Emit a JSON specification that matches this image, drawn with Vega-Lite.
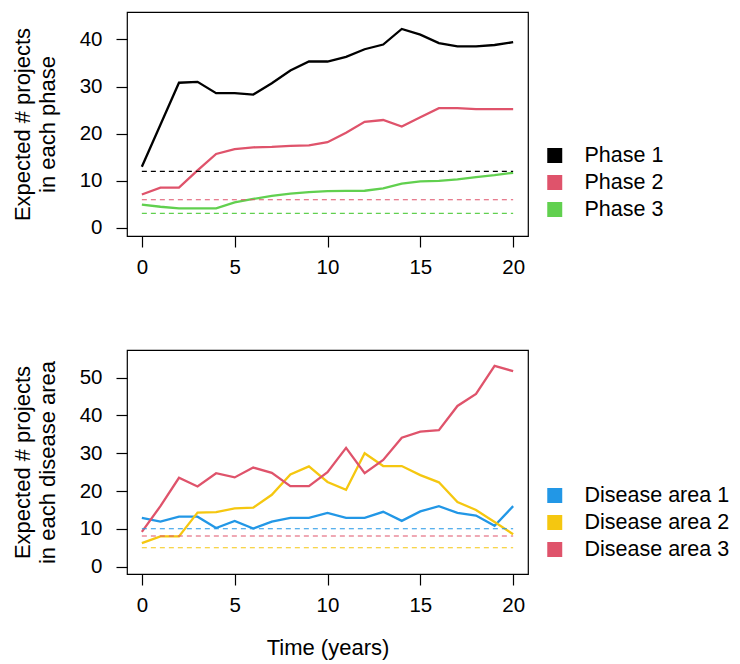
{
  "$schema": "https://vega.github.io/schema/vega-lite/v6.json",
  "padding": {"left": 10, "top": 11, "right": 5, "bottom": 5},
  "background": "white",
  "bounds": "flush",
  "spacing": 114,
  "resolve": {"scale": {"color": "independent"}},
  "config": {
    "font": "Liberation Sans",
    "view": {"stroke": "black", "strokeWidth": 1.2},
    "axis": {
      "domain": false, "grid": false, "tickColor": "black", "tickSize": 11, "tickWidth": 1.2,
      "labelColor": "black", "labelFontSize": 20.5, "labelFont": "Liberation Sans", "labelPadding": 10,
      "titleFont": "Liberation Sans", "titleFontSize": 22, "titleFontWeight": "normal", "titleColor": "black"
    },
    "axisY": {"labelPadding": 14, "titlePadding": 20, "titleLineHeight": 25},
    "legend": {
      "orient": "none", "title": null, "symbolType": "square", "symbolSize": 56, "symbolStrokeWidth": 7.5, "symbolDash": [],
      "labelFont": "Liberation Sans", "labelFontSize": 21.5, "labelColor": "black", "labelOffset": 19, "rowPadding": 0, "clipHeight": 27
    }
  },
  "vconcat": [
    {
      "width": 401, "height": 224,
      "layer": [
        {
          "data": {"values": [
            {"t":0,"v":13.0,"s":"Phase 1"},{"t":1,"v":21.9,"s":"Phase 1"},{"t":2,"v":30.8,"s":"Phase 1"},{"t":3,"v":31.0,"s":"Phase 1"},{"t":4,"v":28.6,"s":"Phase 1"},{"t":5,"v":28.6,"s":"Phase 1"},{"t":6,"v":28.3,"s":"Phase 1"},{"t":7,"v":30.7,"s":"Phase 1"},{"t":8,"v":33.4,"s":"Phase 1"},{"t":9,"v":35.3,"s":"Phase 1"},{"t":10,"v":35.3,"s":"Phase 1"},{"t":11,"v":36.3,"s":"Phase 1"},{"t":12,"v":37.9,"s":"Phase 1"},{"t":13,"v":38.9,"s":"Phase 1"},{"t":14,"v":42.2,"s":"Phase 1"},{"t":15,"v":41.0,"s":"Phase 1"},{"t":16,"v":39.2,"s":"Phase 1"},{"t":17,"v":38.5,"s":"Phase 1"},{"t":18,"v":38.5,"s":"Phase 1"},{"t":19,"v":38.8,"s":"Phase 1"},{"t":20,"v":39.4,"s":"Phase 1"},
            {"t":0,"v":7.1,"s":"Phase 2"},{"t":1,"v":8.55,"s":"Phase 2"},{"t":2,"v":8.55,"s":"Phase 2"},{"t":3,"v":12.2,"s":"Phase 2"},{"t":4,"v":15.7,"s":"Phase 2"},{"t":5,"v":16.7,"s":"Phase 2"},{"t":6,"v":17.1,"s":"Phase 2"},{"t":7,"v":17.2,"s":"Phase 2"},{"t":8,"v":17.4,"s":"Phase 2"},{"t":9,"v":17.5,"s":"Phase 2"},{"t":10,"v":18.2,"s":"Phase 2"},{"t":11,"v":20.2,"s":"Phase 2"},{"t":12,"v":22.5,"s":"Phase 2"},{"t":13,"v":22.9,"s":"Phase 2"},{"t":14,"v":21.5,"s":"Phase 2"},{"t":15,"v":23.5,"s":"Phase 2"},{"t":16,"v":25.4,"s":"Phase 2"},{"t":17,"v":25.4,"s":"Phase 2"},{"t":18,"v":25.2,"s":"Phase 2"},{"t":19,"v":25.2,"s":"Phase 2"},{"t":20,"v":25.2,"s":"Phase 2"},
            {"t":0,"v":4.95,"s":"Phase 3"},{"t":1,"v":4.5,"s":"Phase 3"},{"t":2,"v":4.17,"s":"Phase 3"},{"t":3,"v":4.17,"s":"Phase 3"},{"t":4,"v":4.17,"s":"Phase 3"},{"t":5,"v":5.44,"s":"Phase 3"},{"t":6,"v":6.15,"s":"Phase 3"},{"t":7,"v":6.8,"s":"Phase 3"},{"t":8,"v":7.3,"s":"Phase 3"},{"t":9,"v":7.6,"s":"Phase 3"},{"t":10,"v":7.8,"s":"Phase 3"},{"t":11,"v":7.85,"s":"Phase 3"},{"t":12,"v":7.9,"s":"Phase 3"},{"t":13,"v":8.4,"s":"Phase 3"},{"t":14,"v":9.4,"s":"Phase 3"},{"t":15,"v":9.9,"s":"Phase 3"},{"t":16,"v":10.0,"s":"Phase 3"},{"t":17,"v":10.3,"s":"Phase 3"},{"t":18,"v":10.8,"s":"Phase 3"},{"t":19,"v":11.2,"s":"Phase 3"},{"t":20,"v":11.7,"s":"Phase 3"}
          ]},
          "mark": {"type": "line", "strokeWidth": 2.3},
          "encoding": {
            "x": {"field": "t", "type": "quantitative", "scale": {"domain": [-0.8, 20.8], "nice": false, "zero": false}, "axis": {"values": [0,5,10,15,20], "title": null}},
            "y": {"field": "v", "type": "quantitative", "scale": {"domain": [-1.7, 45.8], "nice": false, "zero": false}, "axis": {"values": [0,10,20,30,40], "title": ["Expected # projects", "in each phase"]}},
            "color": {"field": "s", "type": "nominal", "scale": {"domain": ["Phase 1","Phase 2","Phase 3"], "range": ["#000000","#DF536B","#61D04F"]}, "legend": {"legendX": 417, "legendY": 130}}
          }
        },
        {
          "data": {"values": [
            {"s":"Phase 1","level":12.0,"t0":0,"t1":20},
            {"s":"Phase 2","level":6.0,"t0":0,"t1":20},
            {"s":"Phase 3","level":3.1,"t0":0,"t1":20}
          ]},
          "mark": {"type": "rule", "strokeDash": [5, 4], "strokeWidth": 1.1},
          "encoding": {
            "x": {"field": "t0", "type": "quantitative"},
            "x2": {"field": "t1"},
            "y": {"field": "level", "type": "quantitative"},
            "color": {"field": "s", "type": "nominal"}
          }
        }
      ]
    },
    {
      "width": 401, "height": 224,
      "layer": [
        {
          "data": {"values": [
            {"t":0,"v":12.9,"s":"Disease area 1"},{"t":1,"v":11.9,"s":"Disease area 1"},{"t":2,"v":13.2,"s":"Disease area 1"},{"t":3,"v":13.2,"s":"Disease area 1"},{"t":4,"v":10.2,"s":"Disease area 1"},{"t":5,"v":12.1,"s":"Disease area 1"},{"t":6,"v":10.05,"s":"Disease area 1"},{"t":7,"v":11.9,"s":"Disease area 1"},{"t":8,"v":12.9,"s":"Disease area 1"},{"t":9,"v":12.9,"s":"Disease area 1"},{"t":10,"v":14.2,"s":"Disease area 1"},{"t":11,"v":12.9,"s":"Disease area 1"},{"t":12,"v":12.9,"s":"Disease area 1"},{"t":13,"v":14.5,"s":"Disease area 1"},{"t":14,"v":12.1,"s":"Disease area 1"},{"t":15,"v":14.6,"s":"Disease area 1"},{"t":16,"v":16.0,"s":"Disease area 1"},{"t":17,"v":14.2,"s":"Disease area 1"},{"t":18,"v":13.5,"s":"Disease area 1"},{"t":19,"v":10.8,"s":"Disease area 1"},{"t":20,"v":16.0,"s":"Disease area 1"},
            {"t":0,"v":6.2,"s":"Disease area 2"},{"t":1,"v":8.0,"s":"Disease area 2"},{"t":2,"v":8.0,"s":"Disease area 2"},{"t":3,"v":14.3,"s":"Disease area 2"},{"t":4,"v":14.4,"s":"Disease area 2"},{"t":5,"v":15.4,"s":"Disease area 2"},{"t":6,"v":15.6,"s":"Disease area 2"},{"t":7,"v":19.0,"s":"Disease area 2"},{"t":8,"v":24.4,"s":"Disease area 2"},{"t":9,"v":26.5,"s":"Disease area 2"},{"t":10,"v":22.4,"s":"Disease area 2"},{"t":11,"v":20.3,"s":"Disease area 2"},{"t":12,"v":30.0,"s":"Disease area 2"},{"t":13,"v":26.6,"s":"Disease area 2"},{"t":14,"v":26.6,"s":"Disease area 2"},{"t":15,"v":24.2,"s":"Disease area 2"},{"t":16,"v":22.3,"s":"Disease area 2"},{"t":17,"v":17.1,"s":"Disease area 2"},{"t":18,"v":15.0,"s":"Disease area 2"},{"t":19,"v":11.8,"s":"Disease area 2"},{"t":20,"v":8.55,"s":"Disease area 2"},
            {"t":0,"v":9.2,"s":"Disease area 3"},{"t":1,"v":16.0,"s":"Disease area 3"},{"t":2,"v":23.5,"s":"Disease area 3"},{"t":3,"v":21.2,"s":"Disease area 3"},{"t":4,"v":24.7,"s":"Disease area 3"},{"t":5,"v":23.6,"s":"Disease area 3"},{"t":6,"v":26.2,"s":"Disease area 3"},{"t":7,"v":24.8,"s":"Disease area 3"},{"t":8,"v":21.3,"s":"Disease area 3"},{"t":9,"v":21.3,"s":"Disease area 3"},{"t":10,"v":25.0,"s":"Disease area 3"},{"t":11,"v":31.4,"s":"Disease area 3"},{"t":12,"v":24.7,"s":"Disease area 3"},{"t":13,"v":28.2,"s":"Disease area 3"},{"t":14,"v":34.1,"s":"Disease area 3"},{"t":15,"v":35.7,"s":"Disease area 3"},{"t":16,"v":36.1,"s":"Disease area 3"},{"t":17,"v":42.5,"s":"Disease area 3"},{"t":18,"v":45.7,"s":"Disease area 3"},{"t":19,"v":53.1,"s":"Disease area 3"},{"t":20,"v":51.7,"s":"Disease area 3"}
          ]},
          "mark": {"type": "line", "strokeWidth": 2.3},
          "encoding": {
            "x": {"field": "t", "type": "quantitative", "scale": {"domain": [-0.8, 20.8], "nice": false, "zero": false}, "axis": {"values": [0,5,10,15,20], "title": "Time (years)", "titlePadding": 22}},
            "y": {"field": "v", "type": "quantitative", "scale": {"domain": [-1.95, 57.3], "nice": false, "zero": false}, "axis": {"values": [0,10,20,30,40,50], "title": ["Expected # projects", "in each disease area"]}},
            "color": {"field": "s", "type": "nominal", "scale": {"domain": ["Disease area 1","Disease area 2","Disease area 3"], "range": ["#2297E6","#F5C710","#DF536B"]}, "legend": {"legendX": 417, "legendY": 132}}
          }
        },
        {
          "data": {"values": [
            {"s":"Disease area 1","level":10.0,"t0":0,"t1":20},
            {"s":"Disease area 2","level":5.0,"t0":0,"t1":20},
            {"s":"Disease area 3","level":8.1,"t0":0,"t1":20}
          ]},
          "mark": {"type": "rule", "strokeDash": [5, 4], "strokeWidth": 1.1},
          "encoding": {
            "x": {"field": "t0", "type": "quantitative"},
            "x2": {"field": "t1"},
            "y": {"field": "level", "type": "quantitative"},
            "color": {"field": "s", "type": "nominal"}
          }
        }
      ]
    }
  ]
}
